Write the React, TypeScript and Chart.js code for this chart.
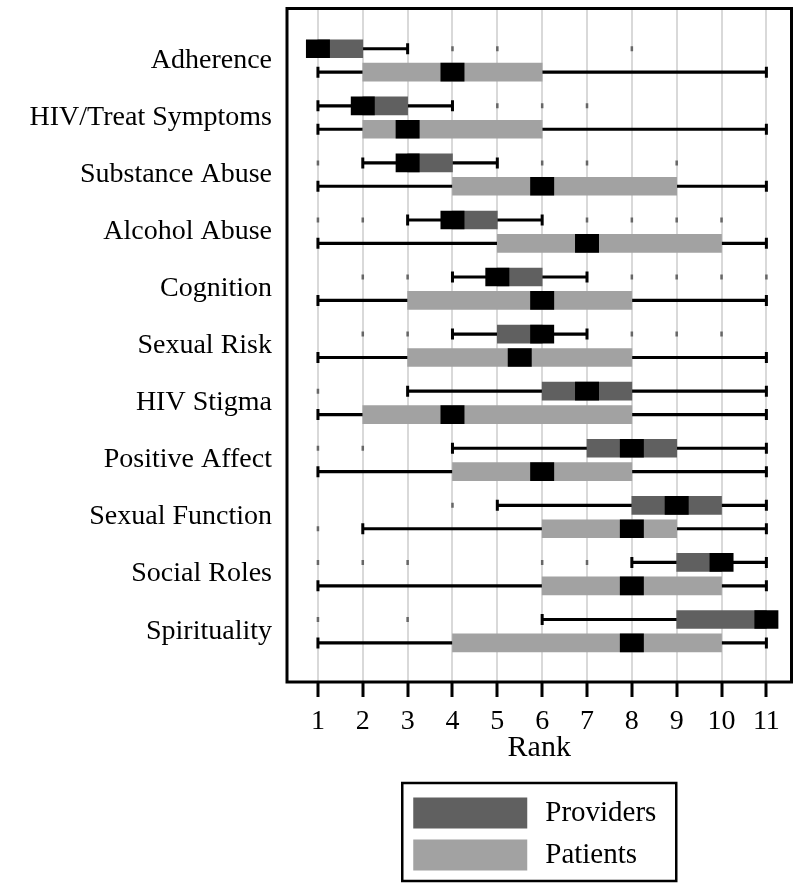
import React, { useEffect, useRef } from "react";
import { Chart, registerables } from "chart.js";

Chart.register(...registerables);

const categories = [
  "Adherence",
  "HIV/Treat Symptoms",
  "Substance Abuse",
  "Alcohol Abuse",
  "Cognition",
  "Sexual Risk",
  "HIV Stigma",
  "Positive Affect",
  "Sexual Function",
  "Social Roles",
  "Spirituality",
];

const rankTicks = [1, 2, 3, 4, 5, 6, 7, 8, 9, 10, 11];
const rankTickLabels = ["1", "2", "3", "4", "5", "6", "7", "8", "9", "10", "11"];

// Providers: five-number summaries per category
const providerMin = [1, 1, 2, 3, 4, 4, 3, 4, 5, 8, 6];
const providerQ1 = [1, 2, 3, 4, 5, 5, 6, 7, 8, 9, 9];
const providerMedian = [1, 2, 3, 4, 5, 6, 7, 8, 9, 10, 11];
const providerQ3 = [2, 3, 4, 5, 6, 6, 8, 9, 10, 10, 11];
const providerMax = [3, 4, 5, 6, 7, 7, 11, 11, 11, 11, 11];
const providerOutliers = [
  [4, 5, 8],
  [5, 6, 7],
  [1, 6, 7, 9],
  [1, 2, 7, 8, 9, 10],
  [2, 3, 8, 9, 10, 11],
  [2, 3, 8, 9, 10],
  [1],
  [1, 2],
  [4],
  [1, 2, 3, 6, 7],
  [1, 3],
];

// Patients: five-number summaries per category
const patientMin = [1, 1, 1, 1, 1, 1, 1, 1, 2, 1, 1];
const patientQ1 = [2, 2, 4, 5, 3, 3, 2, 4, 6, 6, 4];
const patientMedian = [4, 3, 6, 7, 6, 5.5, 4, 6, 8, 8, 8];
const patientQ3 = [6, 6, 9, 10, 8, 8, 8, 8, 9, 10, 10];
const patientMax = [11, 11, 11, 11, 11, 11, 11, 11, 11, 11, 11];
const patientOutliers = [[], [], [], [], [], [], [], [], [1], [], []];

const seriesNames = ["Providers", "Patients"];
const seriesColors = ["#606060", "#a2a2a2"];

const FONT = "'Liberation Serif', 'Times New Roman', Times, serif";
const ROW_OFFSET = 0.205;
const MEDIAN_HALF = 0.26;
const BOX_THICK = 18;

function buildSeries(
  name: string,
  color: string,
  off: number,
  mins: number[],
  q1: number[],
  med: number[],
  q3: number[],
  maxs: number[],
  outl: number[][]
) {
  const y = (i: number) => i + off;
  return [
    {
      type: "bar",
      label: name + " whisker",
      indexAxis: "y",
      grouped: false,
      barThickness: 2.5,
      backgroundColor: "#000",
      borderWidth: 0,
      order: 5,
      data: categories.map((_, i) => ({ x: [mins[i], maxs[i]], y: y(i) })),
    },
    {
      type: "scatter",
      label: name + " caps",
      pointStyle: "line",
      rotation: 90,
      radius: 5.5,
      borderWidth: 3,
      borderColor: "#000",
      backgroundColor: "#000",
      order: 4,
      data: categories.flatMap((_, i) => [
        { x: mins[i], y: y(i) },
        { x: maxs[i], y: y(i) },
      ]),
    },
    {
      type: "bar",
      label: name,
      indexAxis: "y",
      grouped: false,
      barThickness: BOX_THICK,
      backgroundColor: color,
      borderWidth: 0,
      order: 3,
      data: categories.map((_, i) => ({ x: [q1[i], q3[i]], y: y(i) })),
    },
    {
      type: "bar",
      label: name + " median",
      indexAxis: "y",
      grouped: false,
      barThickness: BOX_THICK,
      backgroundColor: "#000",
      borderWidth: 0,
      order: 2,
      data: categories.map((_, i) => ({ x: [med[i] - MEDIAN_HALF, med[i] + MEDIAN_HALF], y: y(i) })),
    },
    {
      type: "scatter",
      label: name + " outliers",
      pointStyle: "line",
      rotation: 90,
      radius: 2.5,
      borderWidth: 2.5,
      borderColor: "#666",
      backgroundColor: "#666",
      order: 1,
      data: outl.flatMap((vals, i) => vals.map((v) => ({ x: v, y: y(i) }))),
    },
  ];
}

const framePlugin = {
  id: "frameAndLegend",
  afterDraw(chart: any) {
    const { ctx, chartArea } = chart;
    const { left, right, top, bottom } = chartArea;
    ctx.save();
    ctx.strokeStyle = "#000";
    ctx.lineWidth = 3;
    ctx.strokeRect(left, top, right - left, bottom - top);

    // legend
    const cx = (left + right) / 2;
    const lx = cx - 137;
    const ly = 783;
    ctx.lineWidth = 2.5;
    ctx.strokeRect(lx, ly, 274, 98);
    const rows = [813, 855];
    seriesNames.forEach((n, k) => {
      ctx.fillStyle = seriesColors[k];
      ctx.fillRect(cx - 126, rows[k] - 15.5, 114, 31);
      ctx.fillStyle = "#000";
      ctx.font = `29px ${FONT}`;
      ctx.textAlign = "left";
      ctx.textBaseline = "middle";
      ctx.fillText(n, cx + 6, rows[k]);
    });
    ctx.restore();
  },
};

export default function App() {
  const ref = useRef<HTMLCanvasElement | null>(null);

  useEffect(() => {
    if (!ref.current) return;
    Chart.defaults.font.family = FONT;
    Chart.defaults.color = "#000";

    const datasets: any[] = [
      ...buildSeries(
        seriesNames[0],
        seriesColors[0],
        -ROW_OFFSET,
        providerMin,
        providerQ1,
        providerMedian,
        providerQ3,
        providerMax,
        providerOutliers
      ),
      ...buildSeries(
        seriesNames[1],
        seriesColors[1],
        ROW_OFFSET,
        patientMin,
        patientQ1,
        patientMedian,
        patientQ3,
        patientMax,
        patientOutliers
      ),
    ];

    const chart = new Chart(ref.current, {
      type: "bar",
      data: { datasets },
      plugins: [framePlugin],
      options: {
        responsive: false,
        animation: false,
        devicePixelRatio: 1,
        layout: { padding: { top: 5, right: 8, left: 0, bottom: 0 } },
        plugins: { legend: { display: false }, tooltip: { enabled: false } },
        scales: {
          x: {
            type: "linear",
            position: "bottom",
            offset: false,
            beginAtZero: false,
            min: 0.31,
            max: 11.56,
            afterBuildTicks: (scale: any) => {
              scale.ticks = rankTicks.map((v) => ({ value: v }));
            },
            afterFit: (scale: any) => {
              scale.height = 206;
              scale.paddingLeft = 0;
              scale.paddingRight = 0;
            },
            ticks: {
              padding: 8,
              font: { size: 28 },
              color: "#000",
              maxRotation: 0,
              autoSkip: false,
              callback: (v: any) => rankTickLabels[rankTicks.indexOf(Number(v))] ?? "",
            },
            grid: {
              offset: false,
              color: "#d9d9d9",
              lineWidth: 2,
              tickColor: "#000",
              tickWidth: 3,
              tickLength: 15,
            },
            border: { display: false },
            title: {
              display: true,
              text: "Rank",
              font: { size: 30 },
              color: "#000",
              padding: { top: 0, bottom: 122 },
            },
          },
          y: {
            type: "linear",
            position: "left",
            offset: false,
            beginAtZero: false,
            reverse: true,
            min: -0.91,
            max: 10.89,
            afterBuildTicks: (scale: any) => {
              scale.ticks = categories.map((_, i) => ({ value: i }));
            },
            afterFit: (scale: any) => {
              scale.width = 287;
              scale.paddingTop = 0;
              scale.paddingBottom = 0;
            },
            ticks: {
              padding: 15,
              font: { size: 28 },
              color: "#000",
              autoSkip: false,
              callback: (v: any) => categories[Number(v)] ?? "",
            },
            grid: { display: false, drawTicks: false, offset: false },
            border: { display: false },
          },
        },
      } as any,
    } as any);

    return () => chart.destroy();
  }, []);

  return (
    <div style={{ position: "absolute", left: 0, top: 0, width: 800, height: 888, background: "#fff" }}>
      <canvas ref={ref} width={800} height={888} />
    </div>
  );
}
